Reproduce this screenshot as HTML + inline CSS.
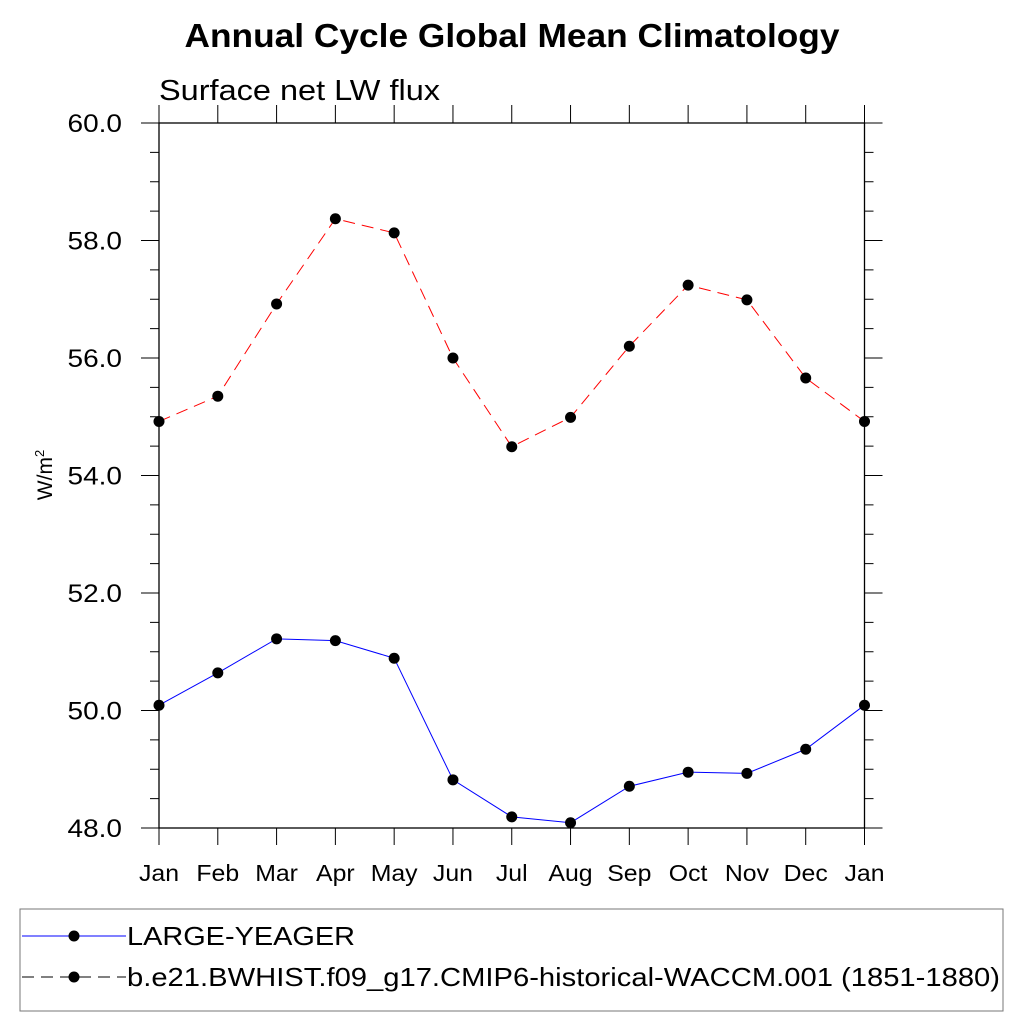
<!DOCTYPE html>
<html><head><meta charset="utf-8"><style>
body{margin:0;background:#fff}
svg{display:block;font-family:"Liberation Sans",sans-serif}
</style></head><body>
<svg id="c" width="1024" height="1024" xmlns="http://www.w3.org/2000/svg">
<text x="512" y="47" text-anchor="middle" font-size="33" font-weight="bold" textLength="655" lengthAdjust="spacingAndGlyphs">Annual Cycle Global Mean Climatology</text>
<text x="159" y="100" font-size="29" textLength="281" lengthAdjust="spacingAndGlyphs">Surface net LW flux</text>
<text transform="translate(52,475) rotate(-90)" text-anchor="middle" font-size="21">W/m<tspan dy="-8" font-size="13">2</tspan></text>
<g id="axes"></g>
<g id="series"></g>
<rect x="20" y="909" width="983" height="102" fill="none" stroke="#777" stroke-width="1"/>
<g>
<line x1="22" y1="936" x2="126" y2="936" stroke="#00f" stroke-width="1"/>
<circle cx="74" cy="936" r="5.5" fill="#000"/>
<text x="127" y="945" font-size="26" textLength="228" lengthAdjust="spacingAndGlyphs">LARGE-YEAGER</text></g>
<g>
<line x1="22" y1="977" x2="126" y2="977" stroke="#000" stroke-width="1" stroke-dasharray="12,7"/>
<circle cx="74" cy="977" r="5.5" fill="#000"/>
<text x="127" y="986" font-size="26" textLength="873" lengthAdjust="spacingAndGlyphs">b.e21.BWHIST.f09_g17.CMIP6-historical-WACCM.001 (1851-1880)</text></g>
</svg>
<script>
const months=["Jan","Feb","Mar","Apr","May","Jun","Jul","Aug","Sep","Oct","Nov","Dec","Jan"];
const yTicks=["48.0","50.0","52.0","54.0","56.0","58.0","60.0"];
const largeYeager=[50.09,50.64,51.22,51.19,50.89,48.82,48.19,48.09,48.71,48.95,48.93,49.34,50.09];
const waccm=[54.92,55.35,56.92,58.37,58.13,56.0,54.49,54.99,56.2,57.24,56.99,55.66,54.92];
const L=159,R=864.5,T=123,B=828,yMin=48,yMax=60;
const xs=i=>L+(R-L)*i/(months.length-1);
const ys=v=>B-(B-T)*(v-yMin)/(yMax-yMin);
const NS="http://www.w3.org/2000/svg";
function mk(p,tag,a){const e=document.createElementNS(NS,tag);for(const k in a)e.setAttribute(k,a[k]);p.appendChild(e);return e;}
const ax=document.getElementById('axes');
const fr=mk(ax,'rect',{x:L,y:T,width:R-L,height:B-T,fill:'none',stroke:'#000','stroke-width':1.3});


months.forEach((m,i)=>{const x=xs(i);
mk(ax,'line',{x1:x,y1:B,x2:x,y2:B+17,stroke:'#000','stroke-width':1});
mk(ax,'line',{x1:x,y1:T,x2:x,y2:T-18,stroke:'#000','stroke-width':1});
const t=mk(ax,'text',{x:x,y:881,'text-anchor':'middle','font-size':23,transform:`translate(${x},0) scale(1.08,1) translate(${-x},0)`});t.textContent=m;

});
for(let v=yMin;v<=yMax+1e-9;v+=0.5){const y=ys(v);const maj=Math.abs(v%2)<1e-9;const len=maj?18:9;
mk(ax,'line',{x1:L-len,y1:y,x2:L,y2:y,stroke:'#000','stroke-width':1});
mk(ax,'line',{x1:R,y1:y,x2:R+len,y2:y,stroke:'#000','stroke-width':1});}
yTicks.forEach(s=>{const t=mk(ax,'text',{x:122,y:ys(parseFloat(s))+9,'text-anchor':'end','font-size':25,transform:'translate(122,0) scale(1.12,1) translate(-122,0)'});t.textContent=s;

});
const sg=document.getElementById('series');
function series(vals,color,dash,name){const g=mk(sg,'g',{});


const a={points:vals.map((v,i)=>xs(i)+','+ys(v)).join(' '),fill:'none',stroke:color,'stroke-width':1};
if(dash)a['stroke-dasharray']=dash;mk(g,'polyline',a);
vals.forEach((v,i)=>{const c=mk(g,'circle',{cx:xs(i),cy:ys(v),r:5.5,fill:'#000'});

});}
series(largeYeager,'#00f',null,'series-large-yeager');
series(waccm,'#f00','12,7','series-waccm');
</script>
</body></html>
